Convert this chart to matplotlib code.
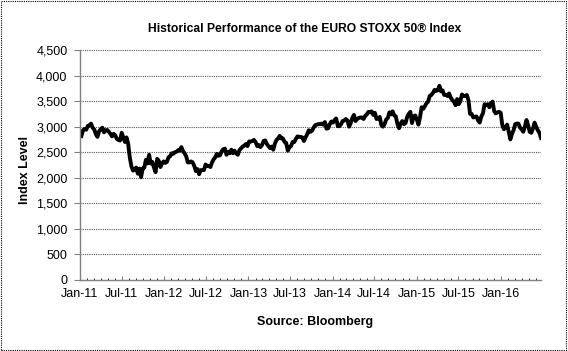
import pandas as pd
import matplotlib
matplotlib.use('Agg')
import matplotlib.pyplot as plt
import matplotlib.dates as mdates
from matplotlib.patches import Rectangle
from matplotlib.ticker import FuncFormatter, MultipleLocator

plt.rcParams['font.family'] = ['Liberation Sans', 'DejaVu Sans']

# Weekly (Friday) closes
vals_2011 = [2817, 2930, 2955, 2940, 3015, 3025, 3060, 2980, 2945, 2850, 2800, 2910,
             2950, 2980, 2890, 2930, 2935, 2900, 2860, 2810, 2860, 2830, 2760, 2740,
             2730, 2880, 2790, 2700, 2790, 2670, 2400, 2230, 2140, 2160, 2200, 2080,
             2180, 2010, 2180, 2200, 2350, 2280, 2450, 2280, 2310, 2200, 2110, 2370,
             2330, 2210, 2280, 2320]
vals_2012 = [2290, 2310, 2400, 2420, 2480, 2470, 2500, 2510, 2540, 2530, 2600, 2520,
             2480, 2420, 2300, 2300, 2320, 2300, 2230, 2130, 2170, 2070, 2150, 2150,
             2150, 2260, 2230, 2230, 2210, 2300, 2360, 2400, 2470, 2430, 2440, 2520,
             2560, 2570, 2450, 2510, 2480, 2550, 2480, 2530, 2480, 2450, 2540, 2575,
             2610, 2630, 2660, 2620]
vals_2013 = [2710, 2710, 2720, 2740, 2700, 2620, 2640, 2600, 2640, 2720, 2730, 2660,
             2620, 2580, 2610, 2550, 2670, 2740, 2770, 2820, 2770, 2770, 2700, 2680,
             2530, 2600, 2620, 2700, 2700, 2760, 2810, 2800, 2800, 2790, 2720, 2790,
             2850, 2930, 2900, 2920, 2980, 3030, 3040, 3050, 3050, 3060, 3040, 3090,
             2960, 2970, 3050, 3100]
vals_2014 = [3080, 3130, 3160, 3010, 3010, 3050, 3110, 3120, 3150, 3120, 3000, 3070,
             3170, 3230, 3110, 3150, 3170, 3180, 3180, 3150, 3210, 3240, 3290, 3280,
             3300, 3230, 3270, 3150, 3160, 3190, 3030, 3000, 3050, 3140, 3170, 3280,
             3240, 3300, 3220, 3200, 3050, 2970, 3060, 3110, 3050, 3070, 3190, 3250,
             3290, 3070, 3200, 3220]
vals_2015 = [3140, 3040, 3190, 3380, 3350, 3400, 3460, 3490, 3600, 3620, 3660, 3720,
             3700, 3710, 3800, 3690, 3710, 3620, 3620, 3600, 3650, 3570, 3520, 3490,
             3420, 3540, 3440, 3500, 3630, 3600, 3600, 3620, 3520, 3250, 3250, 3180,
             3190, 3200, 3120, 3080, 3200, 3260, 3440, 3420, 3440, 3380, 3460, 3490,
             3300, 3260, 3280, 3290]
vals_2016 = [3270, 3030, 2950, 2990, 3040, 2900, 2750, 2860, 2930, 3050, 3060, 3060,
             2980, 2950, 2900, 3000, 3130, 3030, 2900, 2880, 2960, 3080, 3000, 2930,
             2880, 2780]

values = vals_2011 + vals_2012 + vals_2013 + vals_2014 + vals_2015 + vals_2016
dates = pd.date_range('2011-01-07', periods=len(values), freq='W-FRI')

fig = plt.figure(figsize=(5.68, 3.51), dpi=100)
ax = fig.add_axes([80 / 568, 1 - 280 / 351, 461 / 568, 230 / 351])

ax.plot(dates, values, color='black', linewidth=2.8, solid_joinstyle='round')

ax.set_ylim(0, 4500)
ax.set_xlim(pd.Timestamp('2011-01-01'), dates[-1])
ax.yaxis.set_major_locator(MultipleLocator(500))
ax.yaxis.set_major_formatter(FuncFormatter(lambda v, p: f'{int(v):,}'))
ax.xaxis.set_major_locator(mdates.MonthLocator(bymonth=[1, 7]))
ax.xaxis.set_minor_locator(mdates.MonthLocator())
ax.xaxis.set_major_formatter(mdates.DateFormatter('%b-%y'))

ax.grid(axis='y', color='#555555', linestyle=(0, (1, 1)), linewidth=0.8)
ax.set_axisbelow(True)
for s in ['top', 'right']:
    ax.spines[s].set_visible(False)
for s in ['left', 'bottom']:
    ax.spines[s].set_color('#808080')
    ax.spines[s].set_linewidth(1.0)

ax.tick_params(axis='both', labelsize=9, colors='#808080', labelcolor='black')
ax.tick_params(axis='y', length=4, pad=5)
ax.tick_params(axis='x', which='major', length=3, direction='in', pad=6)
ax.tick_params(axis='x', which='minor', length=1.5, direction='in')

fig.text(305 / 568, 1 - 29 / 351, 'Historical Performance of the EURO STOXX 50\u00ae Index',
         ha='center', va='center', fontsize=8.7, fontweight='bold')
fig.text(25 / 568, 1 - 170 / 351, 'Index Level', rotation=90,
         ha='center', va='center', fontsize=9, fontweight='bold')
fig.text(315 / 568, 1 - 322 / 351, 'Source: Bloomberg',
         ha='center', va='center', fontsize=9, fontweight='bold')

# dotted frame around the whole picture
fig.patches.append(Rectangle((0.002, 0.003), 0.995, 0.993, transform=fig.transFigure,
                             fill=False, edgecolor='black', linestyle=(0, (1, 1)),
                             linewidth=0.8))

fig.savefig('out.png', dpi=100)
